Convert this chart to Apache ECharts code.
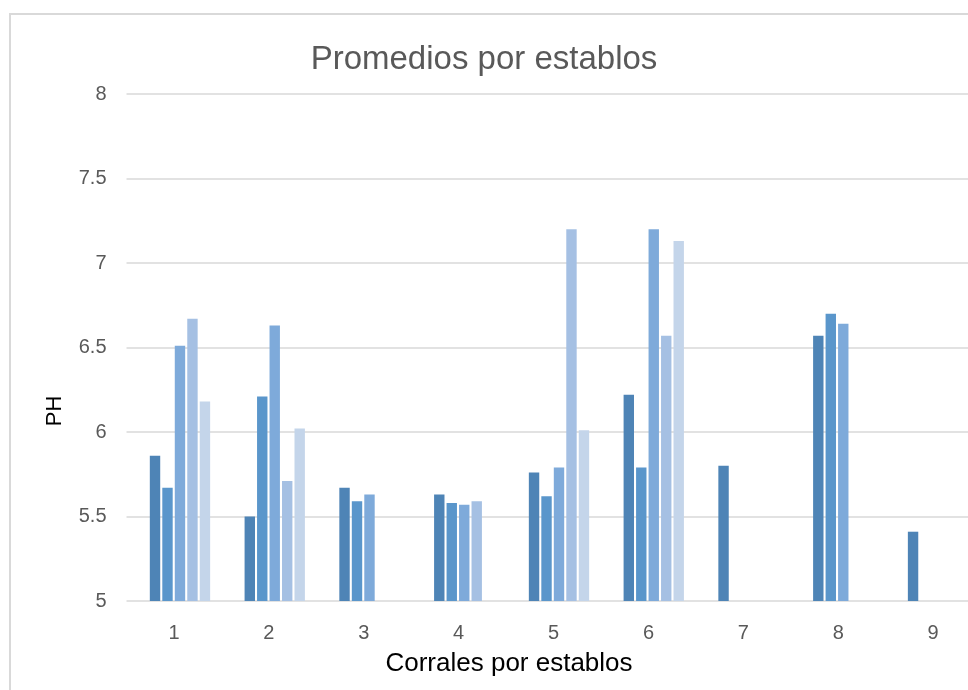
<!DOCTYPE html>
<html>
<head>
<meta charset="utf-8">
<script src="https://cdn.jsdelivr.net/npm/echarts@6/dist/echarts.min.js"></script>
<style>
html,body{margin:0;padding:0;background:#fff;}
#chart{width:968px;height:690px;}
</style>
</head>
<body>
<div id="chart"></div>
<script>
var categories = ['1','2','3','4','5','6','7','8','9'];
var yTicks = [5, 5.5, 6, 6.5, 7, 7.5, 8];
var serie1 = [5.86, 5.50, 5.67, 5.63, 5.76, 6.22, 5.80, 6.57, 5.41];
var serie2 = [5.67, 6.21, 5.59, 5.58, 5.62, 5.79, null, 6.70, null];
var serie3 = [6.51, 6.63, 5.63, 5.57, 5.79, 7.20, null, 6.64, null];
var serie4 = [6.67, 5.71, null, 5.59, 7.20, 6.57, null, null, null];
var serie5 = [6.18, 6.02, null, null, 6.01, 7.13, null, null, null];
var titleText = 'Promedios por establos';
var xName = 'Corrales por establos';
var yName = 'PH';

var FONT = 'Liberation Sans';
var colors = ['#4E84B6', '#5A96CB', '#7EAADA', '#A5C0E3', '#C4D5EA'];
var seriesData = [serie1, serie2, serie3, serie4, serie5];

var chart = echarts.init(document.getElementById('chart'), null, {renderer: 'canvas'});
var option = {
  backgroundColor: '#fff',
  animation: false,
  title: {
    text: titleText,
    left: 'center',
    top: 38,
    textStyle: {fontFamily: FONT, fontSize: 33, fontWeight: 'normal', color: '#595959'}
  },
  graphic: [
    {type: 'rect', shape: {x: 10, y: 14, width: 1100, height: 1000},
     style: {fill: 'none', stroke: '#d9d9d9', lineWidth: 2}, silent: true, z: -1},
    {type: 'text', x: 55, y: 411, rotation: Math.PI / 2,
     style: {text: yName, fontFamily: FONT, fontSize: 22, fill: '#000',
             align: 'center', verticalAlign: 'middle'}},
    {type: 'text', x: 509, y: 664,
     style: {text: xName, fontFamily: FONT, fontSize: 26, fill: '#000',
             align: 'center', verticalAlign: 'middle'}}
  ],
  grid: [
    {left: 126.5, width: 854.1, top: 94, bottom: 89, outerBoundsMode: 'none', containLabel: false},
    {left: 132.6, width: 852.8, top: 94, bottom: 89, outerBoundsMode: 'none', containLabel: false}
  ],
  xAxis: [
    {type: 'category', gridIndex: 0, data: categories,
     axisLine: {show: false}, axisTick: {show: false},
     axisLabel: {fontFamily: FONT, fontSize: 20, color: '#595959', margin: 22}},
    {type: 'category', gridIndex: 1, data: categories, show: false}
  ],
  yAxis: [
    {type: 'value', gridIndex: 0, min: 5, max: 8, interval: 0.5,
     axisLine: {show: false}, axisTick: {show: false},
     axisLabel: {fontFamily: FONT, fontSize: 20, color: '#595959', margin: 20},
     splitLine: {show: true, lineStyle: {color: '#d9d9d9', width: 1.5}}},
    {type: 'value', gridIndex: 1, min: 5, max: 8, interval: 0.5, show: false,
     splitLine: {show: false}}
  ],
  series: seriesData.map(function (d, i) {
    return {
      type: 'bar', xAxisIndex: 1, yAxisIndex: 1, data: d,
      barWidth: 10.4, barGap: '20%',
      itemStyle: {color: colors[i]}
    };
  })
};
chart.setOption(option);
</script>
</body>
</html>
